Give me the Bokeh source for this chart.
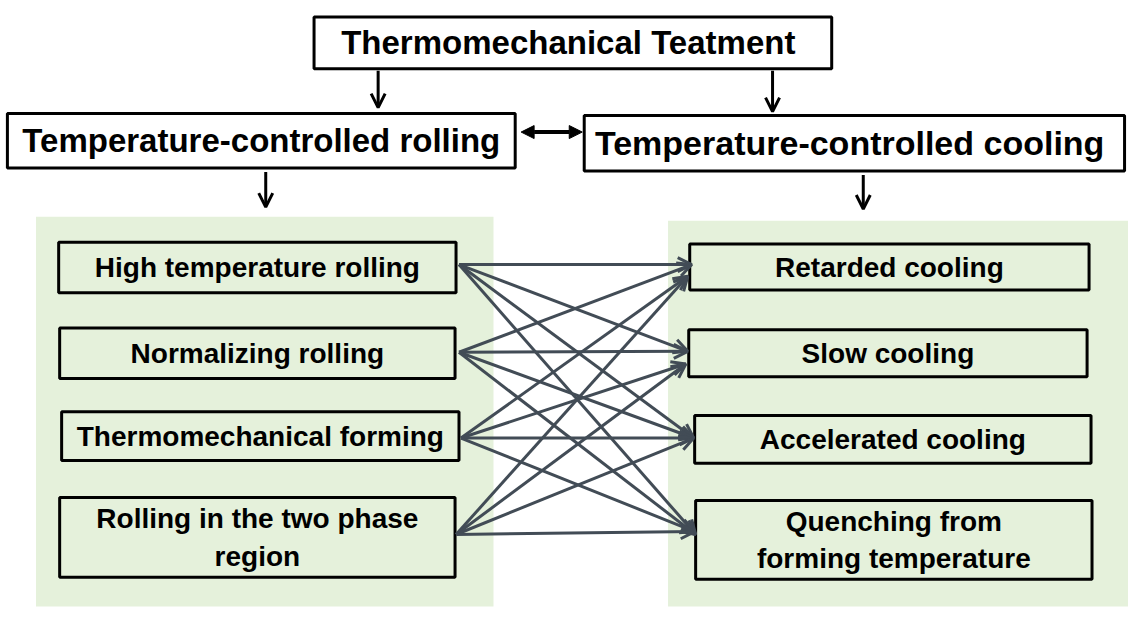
from bokeh.plotting import figure
from bokeh.models import Range1d, Arrow, OpenHead, NormalHead
from bokeh.core.properties import value
from bokeh.embed import file_html
from bokeh.resources import INLINE

# ---- content ----
title_label = "Thermomechanical  Teatment"
branch_labels = ["Temperature-controlled rolling", "Temperature-controlled  cooling"]
rolling_methods = ["High temperature rolling", "Normalizing rolling",
                   "Thermomechanical forming", "Rolling in the two phase\nregion"]
cooling_methods = ["Retarded cooling", "Slow cooling", "Accelerated cooling",
                   "Quenching from\nforming temperature"]
# every rolling method can be combined with every cooling method
links = [(i, j) for i in range(len(rolling_methods)) for j in range(len(cooling_methods))]

# ---- layout (reference pixel space) ----
W, H = 1144, 626
top_box = (318, 843, 17, 70)
branch_boxes = [(7, 522, 116, 172), (592, 1140, 118, 175)]
left_panel = (36, 500, 222, 622)
right_panel = (677, 1144, 226, 622)
left_boxes = [(59, 462, 248, 300), (60, 461, 336, 388), (62, 465, 422, 472), (60, 461, 510, 592)]
right_boxes = [(699, 1104, 250, 297), (698, 1102, 338, 386), (704, 1106, 426, 475), (705, 1107, 513, 594)]
src_pts = [(465, 271), (465, 361), (467, 449), (462, 548)]
tgt_main = [(701, 271), (697, 360), (703, 449), (705, 548)]
tgt_low = [(697, 283), (695, 373), (703, 449), (704, 545)]

BOLD = value("Liberation Sans")
GREEN = "#e5f1db"
LINK = "#424c56"

p = figure(width=1128, height=610, x_range=Range1d(0, W), y_range=Range1d(H, 0),
           output_backend="svg", toolbar_location=None, min_border=0)
p.axis.visible = False
p.grid.visible = False
p.outline_line_color = None
p.background_fill_color = "white"

def boxes(rects, fill, lw=3, lc="black"):
    p.quad(left=[r[0] for r in rects], right=[r[1] for r in rects],
           top=[r[2] for r in rects], bottom=[r[3] for r in rects],
           fill_color=fill, line_color=lc, line_width=lw)

# panels
boxes([left_panel, right_panel], GREEN, lw=0, lc=None)

# links
for i, j in links:
    sx, sy = src_pts[i]
    tx, ty = (tgt_main[j] if i < 2 else tgt_low[j])
    p.add_layout(Arrow(x_start=sx, y_start=sy, x_end=tx, y_end=ty,
                       line_color=LINK, line_width=3,
                       end=OpenHead(size=14, line_color=LINK, line_width=3)))

# boxes
boxes([top_box] + branch_boxes, "white")
boxes(left_boxes + right_boxes, GREEN)

# vertical arrows
for (x, y0, y1) in [(383, 72, 110), (783, 72, 114), (269, 176, 212), (875, 179, 214)]:
    p.add_layout(Arrow(x_start=x, y_start=y0, x_end=x, y_end=y1, line_color="black", line_width=3,
                       end=OpenHead(size=14, line_color="black", line_width=3)))
# double arrow
p.add_layout(Arrow(x_start=528, y_start=135, x_end=590, y_end=135, line_color="black", line_width=4,
                   start=NormalHead(size=13, fill_color="black", line_color="black"),
                   end=NormalHead(size=13, fill_color="black", line_color="black")))

def labels(rects, texts, size):
    p.text(x=[(r[0] + r[1]) / 2 for r in rects], y=[(r[2] + r[3]) / 2 for r in rects],
           text=texts, text_align="center", text_baseline="middle",
           text_font=BOLD, text_font_style="bold", text_font_size=size,
           text_color="black", text_line_height=1.2)

labels([top_box], [title_label], "33px")
labels(branch_boxes[:1], branch_labels[:1], "33px")
labels(branch_boxes[1:], branch_labels[1:], "34px")
labels(left_boxes, rolling_methods, "28px")
labels(right_boxes, cooling_methods, "28px")

open("out.html", "w").write(file_html(p, INLINE))
